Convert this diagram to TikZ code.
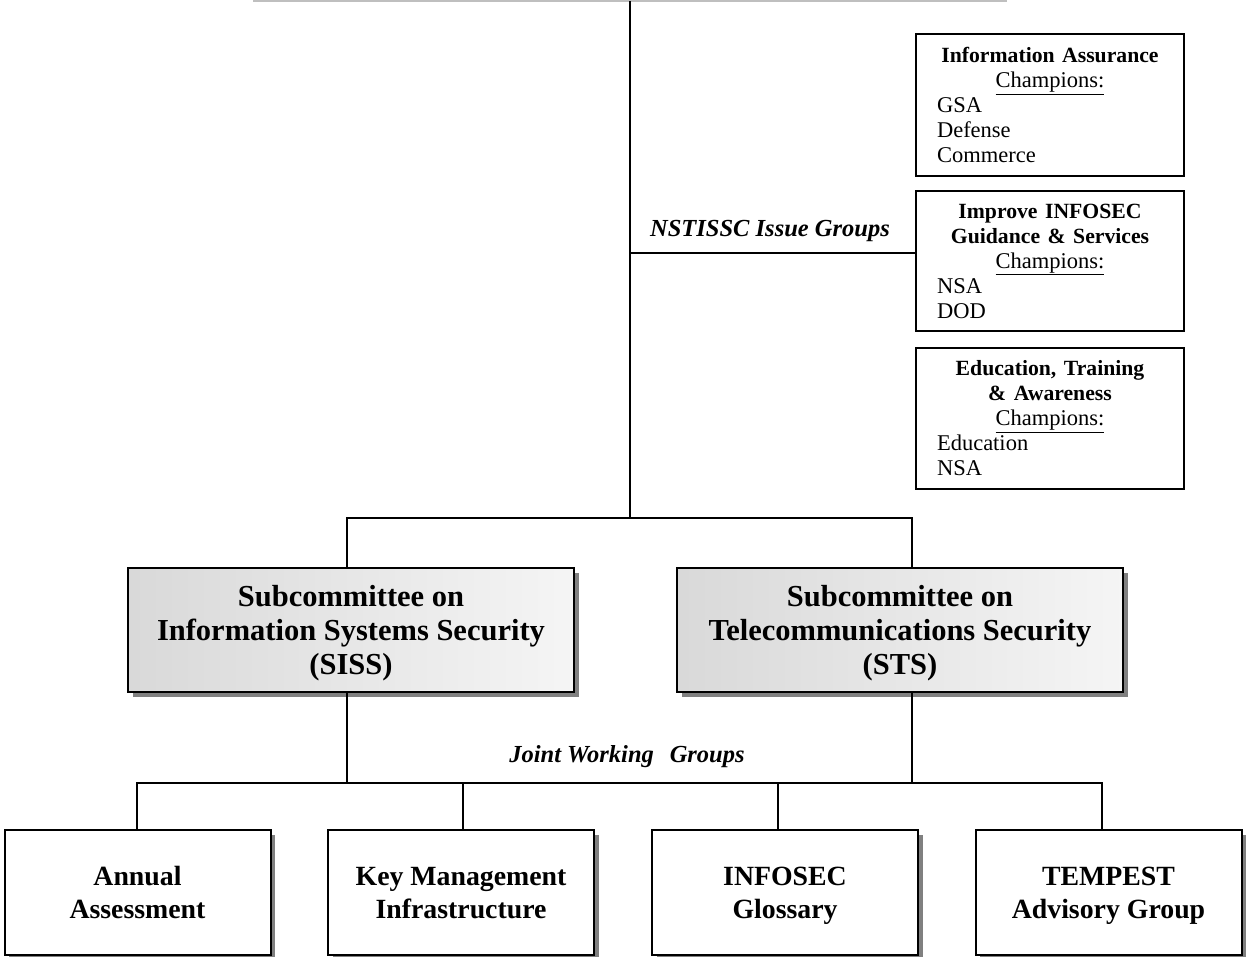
\documentclass[tikz,border=0pt]{standalone}
\usepackage{fontspec}
\setmainfont{Liberation Serif}
\usetikzlibrary{shadows,positioning}
\newcommand{\ttl}[1]{{\bfseries\fontsize{21.7}{25}\selectfont #1}}
\tikzset{
  conn/.style={line width=2pt, line cap=rect},
  issuebox/.style={draw, line width=1.6pt, minimum width=268pt, inner sep=0pt, text width=226pt,
    font=\fontsize{22.5}{25}\selectfont},
  subbox/.style={draw, line width=2pt, minimum width=446pt, minimum height=124pt, inner sep=0pt,
    left color=black!15, right color=black!4,
    drop shadow={shadow xshift=5pt, shadow yshift=-5pt, fill=black!50, opacity=1}},
  subtext/.style={align=center, font=\bfseries\fontsize{30.5}{34}\selectfont, yshift=-3pt},
  leafbox/.style={draw, line width=2pt, fill=white, minimum width=266pt, minimum height=125pt, inner sep=0pt,
    drop shadow={shadow xshift=4.5pt, shadow yshift=-4.5pt, fill=black!50, opacity=1}},
  leaftext/.style={align=center, font=\bfseries\fontsize{27.8}{33}\selectfont, yshift=-2.4pt},
  grouplabel/.style={font=\bfseries\itshape\fontsize{24.5}{28}\selectfont, inner sep=0pt}
}
\begin{document}
\begin{tikzpicture}[x=1pt,y=-1pt]
\useasboundingbox (0,0) rectangle (1246,957);
% top gray line
\draw[black!25, line width=2.5pt] (253,1) -- (1007,1);
\coordinate (top) at (630,2);

% issue group boxes
\node[issuebox, minimum height=142pt] (ia) at (1050,105)
  {\centering\ttl{Information Assurance}\\\underline{Champions:}\par
   \raggedright GSA\\Defense\\Commerce\par};
\node[issuebox, minimum height=140pt] (ig) at (1050,261)
  {\centering\ttl{Improve INFOSEC}\\\ttl{Guidance \& Services}\\\underline{Champions:}\par
   \raggedright NSA\\DOD\par};
\node[issuebox, minimum height=141pt] (eta) at (1050,418.5)
  {\centering\ttl{Education, Training}\\\ttl{\& Awareness}\\\underline{Champions:}\par
   \raggedright Education\\NSA\par};

% main trunk
\coordinate (trunk) at (630,518);
\coordinate (issue) at (630,253);
\draw[conn] (top) -- (trunk);
\draw[conn] (issue) -- (ig.west |- issue);
\node[grouplabel] (issuelbl) at (770,231) {NSTISSC Issue Groups};

% subcommittees
\node[subbox] (siss) at (351,630) {};
\node[subbox] (sts) at (900,630) {};
\node[subtext] (sisst) at (siss.center)
  {Subcommittee on\\Information Systems Security\\(SISS)};
\node[subtext] (stst) at (sts.center)
  {Subcommittee on\\Telecommunications Security\\(STS)};
\coordinate (sl) at (347,518);
\coordinate (sr) at (912,518);
\draw[conn] (sl) -- (sr);
\draw[conn] (sl) -- (sl |- siss.north);
\draw[conn] (sr) -- (sr |- sts.north);

% joint working groups
\coordinate (jl) at (347,783);
\coordinate (jr) at (912,783);
\draw[conn] (siss.south -| jl) -- (jl);
\draw[conn] (sts.south -| jr) -- (jr);
\node[grouplabel] (jointlbl) at (627,757) {Joint Working\hspace{0.4em} Groups};

\node[leafbox] (b1) at (137.5,892.5) {};
\node[leafbox] (b2) at (461,892.5) {};
\node[leafbox] (b3) at (785,892.5) {};
\node[leafbox] (b4) at (1108.5,892.5) {};
\node[leaftext] (t1) at (b1.center) {Annual\strut\\Assessment\strut};
\node[leaftext] (t2) at (b2.center) {Key Management\strut\\Infrastructure\strut};
\node[leaftext] (t3) at (b3.center) {INFOSEC\strut\\Glossary\strut};
\node[leaftext] (t4) at (b4.center) {TEMPEST\strut\\Advisory Group\strut};

\coordinate (d1) at (137,783);
\coordinate (d2) at (463,783);
\coordinate (d3) at (778,783);
\coordinate (d4) at (1102,783);
\draw[conn] (d1) -- (d4);
\draw[conn] (d1) -- (d1 |- b1.north);
\draw[conn] (d2) -- (d2 |- b2.north);
\draw[conn] (d3) -- (d3 |- b3.north);
\draw[conn] (d4) -- (d4 |- b4.north);
\end{tikzpicture}
\end{document}
